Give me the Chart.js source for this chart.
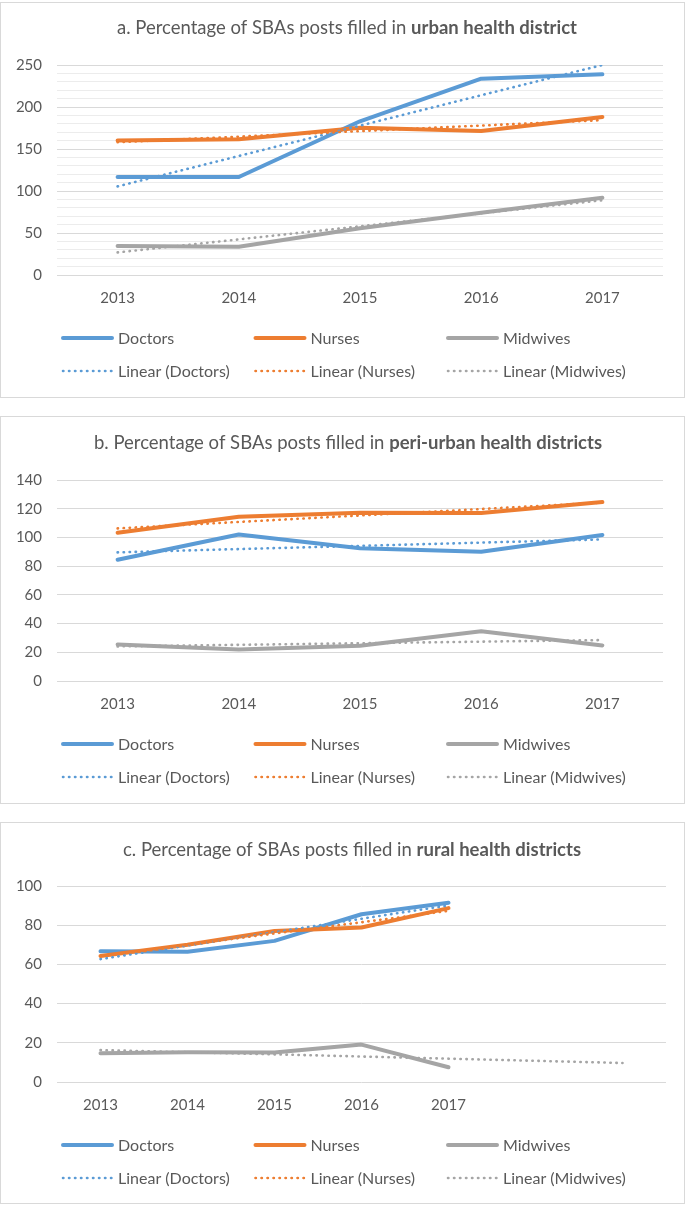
<!DOCTYPE html>
<html><head><meta charset="utf-8">
<script src="https://cdn.jsdelivr.net/npm/chart.js@4.4.0/dist/chart.umd.min.js"></script>
<style>
html,body{margin:0;padding:0;background:#fff;}
.panel{position:absolute;left:0;width:683px;border:1px solid #d9d9d9;background:#fff;}
.panel canvas{display:block;}
</style></head><body>
<div class="panel" style="top:2px;height:394px"><canvas id="ca"></canvas></div>
<div class="panel" style="top:416px;height:386px"><canvas id="cb"></canvas></div>
<div class="panel" style="top:822px;height:380px"><canvas id="cc"></canvas></div>
<script>
// ---- data ----
const years = ['2013', '2014', '2015', '2016', '2017'];
const yearsRural = ['2013', '2014', '2015', '2016', '2017', '', ''];

const urbanDoctors = [116.7, 116.7, 183, 233.7, 239];
const urbanNurses = [160, 161.5, 175.4, 171.4, 188];
const urbanMidwives = [34.5, 33.7, 55.6, 74, 92];
const urbanDoctorsTrend = [105.5, 141.7, 177.8, 214, 250];
const urbanNursesTrend = [158.1, 164.7, 171.3, 177.9, 184.4];
const urbanMidwivesTrend = [26.9, 42.4, 58, 73.5, 89];

const periDoctors = [84.5, 102, 92.4, 90, 101.7];
const periNurses = [103.3, 114.4, 117.2, 117, 124.6];
const periMidwives = [25.5, 22, 24.6, 34.6, 24.8];
const periDoctorsTrend = [89.6, 91.9, 94.1, 96.4, 98.6];
const periNursesTrend = [106.3, 110.8, 115.3, 119.8, 124.3];
const periMidwivesTrend = [24.1, 25.2, 26.3, 27.4, 28.5];

const ruralDoctors = [66.7, 66.5, 72, 85.6, 91.4];
const ruralNurses = [64.3, 70, 77, 78.8, 88.7];
const ruralMidwives = [14.7, 15.2, 15, 19.1, 7.5];
const ruralDoctorsTrend = [62.7, 69.6, 76.4, 83.3, 90.1];
const ruralNursesTrend = [64.2, 70, 75.8, 81.5, 87.3];
const ruralMidwivesTrend = [16.3, 15.2, 14.1, 13.0, 11.9, 10.8, 9.7];

const seriesNames = ['Doctors', 'Nurses', 'Midwives', 'Linear (Doctors)', 'Linear (Nurses)', 'Linear (Midwives)'];

// ---- styles ----
const BLUE = '#5B9BD5', ORANGE = '#ED7D31', GRAY = '#A5A5A5';
const TXT = '#595959';
const FONT = 'Lato, "Open Sans", sans-serif';
const colors = [BLUE, ORANGE, GRAY, BLUE, ORANGE, GRAY];

function makeChart(canvasId, o) {
  const datasets = o.series.map((d, i) => {
    const trend = i >= 3;
    return {
      label: seriesNames[i],
      data: d,
      borderColor: colors[i],
      backgroundColor: colors[i],
      borderWidth: trend ? 2.6 : 4,
      borderDash: trend ? [0.4, 5.6] : [],
      borderCapStyle: 'round',
      borderJoinStyle: 'round',
      pointRadius: 0,
      pointHoverRadius: 0,
      tension: 0,
      fill: false,
      order: 6 - i
    };
  });

  const titlePlugin = {
    id: 'mixedTitle',
    afterDraw(chart) {
      const ctx = chart.ctx;
      ctx.save();
      const fr = 'normal ' + o.titleSize + 'px ' + FONT;
      const fb = 'bold ' + o.titleSize + 'px ' + FONT;
      ctx.font = fr; const w1 = ctx.measureText(o.title[0]).width;
      ctx.font = fb; const w2 = ctx.measureText(o.title[1]).width;
      const x0 = o.titleCenter - (w1 + w2) / 2;
      ctx.fillStyle = TXT;
      ctx.textBaseline = 'middle';
      ctx.textAlign = 'left';
      ctx.font = fr; ctx.fillText(o.title[0], x0, o.titleY);
      ctx.font = fb; ctx.fillText(o.title[1], x0 + w1, o.titleY);
      ctx.restore();
    }
  };

  const legendPlugin = {
    id: 'gridLegend',
    afterDraw(chart) {
      const ctx = chart.ctx;
      const ca = chart.chartArea;
      ctx.save();
      ctx.font = 'normal 16px ' + FONT;
      ctx.textBaseline = 'middle';
      ctx.textAlign = 'left';
      chart.data.datasets.forEach((ds, i) => {
        const row = Math.floor(i / 3), col = i % 3;
        const x = ca.left + 4 + col * 192.5;
        const y = ca.bottom + o.legendGap + row * 33;
        ctx.beginPath();
        ctx.strokeStyle = ds.borderColor;
        ctx.lineWidth = ds.borderWidth;
        ctx.lineCap = 'round';
        ctx.setLineDash(ds.borderDash || []);
        ctx.moveTo(x + 2, y);
        ctx.lineTo(x + 51, y);
        ctx.stroke();
        ctx.setLineDash([]);
        ctx.fillStyle = TXT;
        ctx.fillText(ds.label, x + 57, y + 1);
      });
      ctx.restore();
    }
  };

  return new Chart(document.getElementById(canvasId), {
    type: 'line',
    data: { labels: o.labels, datasets },
    options: {
      responsive: true,
      maintainAspectRatio: false,
      animation: false,
      events: [],
      layout: { padding: { top: o.top, bottom: o.bottomPad, left: 0, right: o.rightPad } },
      plugins: { legend: { display: false }, title: { display: false }, tooltip: { enabled: false } },
      scales: {
        x: {
          type: 'category',
          offset: true,
          grid: { display: false, drawTicks: false },
          border: { display: false },
          ticks: { color: TXT, font: { family: FONT, size: 15 }, padding: 14, maxRotation: 0, autoSkip: false },
          afterFit(s) { s.height = 30; }
        },
        y: {
          min: 0,
          max: o.yMax,
          grid: {
            drawTicks: false,
            lineWidth: 1,
            color: (c) => (c.tick && Math.round(c.tick.value) % o.yStep === 0) ? '#d9d9d9' : '#ececec'
          },
          border: { display: false },
          ticks: {
            stepSize: o.minorStep,
            autoSkip: false,
            color: TXT,
            font: { family: FONT, size: 15 },
            padding: 15,
            callback: (v) => (Math.round(v) % o.yStep === 0) ? String(v) : ''
          },
          afterFit(s) { s.width = 56; }
        }
      }
    },
    plugins: [titlePlugin, legendPlugin]
  });
}

makeChart('ca', {
  labels: years,
  series: [urbanDoctors, urbanNurses, urbanMidwives, urbanDoctorsTrend, urbanNursesTrend, urbanMidwivesTrend],
  yMax: 250, yStep: 50, minorStep: 10,
  top: 62, bottomPad: 92, rightPad: 21, legendGap: 63,
  title: ['a. Percentage of SBAs posts filled in ', 'urban health district'],
  titleSize: 18.5, titleCenter: 346, titleY: 25
});

makeChart('cb', {
  labels: years,
  series: [periDoctors, periNurses, periMidwives, periDoctorsTrend, periNursesTrend, periMidwivesTrend],
  yMax: 140, yStep: 20, minorStep: 20,
  top: 63, bottomPad: 92, rightPad: 21, legendGap: 63,
  title: ['b. Percentage of SBAs posts filled in ', 'peri-urban health districts'],
  titleSize: 18.5, titleCenter: 347, titleY: 26
});

makeChart('cc', {
  labels: yearsRural,
  series: [ruralDoctors, ruralNurses, ruralMidwives, ruralDoctorsTrend, ruralNursesTrend, ruralMidwivesTrend],
  yMax: 100, yStep: 20, minorStep: 20,
  top: 63, bottomPad: 91, rightPad: 18, legendGap: 63,
  title: ['c. Percentage of SBAs posts filled in ', 'rural health districts'],
  titleSize: 18.5, titleCenter: 351, titleY: 27
});
</script>
</body></html>
